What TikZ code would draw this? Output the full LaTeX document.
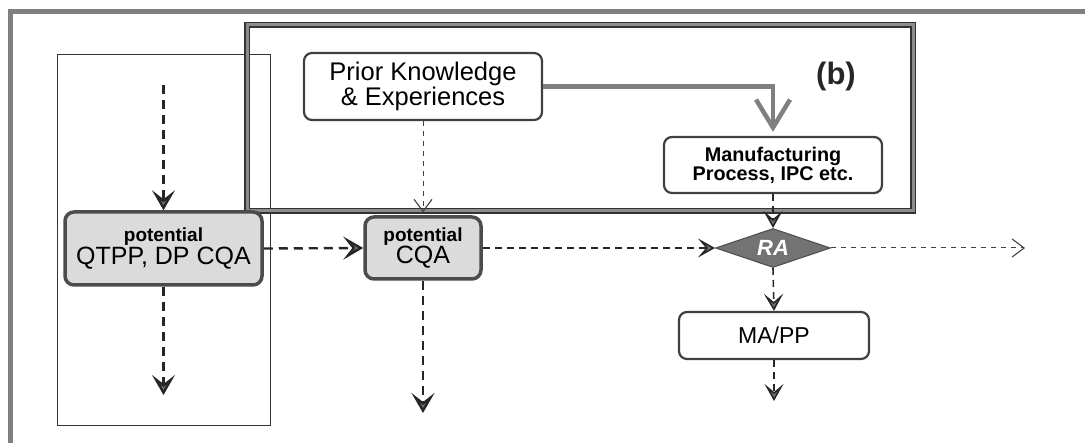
\documentclass[tikz,border=0pt]{standalone}
\usepackage{fontspec}
\setmainfont{Liberation Sans}
\usetikzlibrary{arrows.meta,shapes.geometric}
\begin{document}
\begin{tikzpicture}[x=1pt,y=-1pt,
  box/.style={draw=black!75, line width=2.2pt, rounded corners=8pt, fill=white, inner sep=0pt, align=center},
  potbox/.style={draw=black!70, line width=3.5pt, rounded corners=9pt, fill=black!14, inner sep=0pt, align=center},
  thickdash/.style={draw=black!85, line width=2.4pt, dash pattern=on 9pt off 6pt, -{Stealth[length=20pt,width=23pt,inset=9pt,fill=black!55]}},
  middash/.style={draw=black!85, line width=1.6pt, dash pattern=on 7pt off 5pt, -{Stealth[length=17pt,width=19pt,inset=8pt,fill=black!55]}},
  thindash/.style={draw=black!75, line width=1pt, dash pattern=on 5pt off 5pt, -{Straight Barb[length=12pt,width=18pt,line width=1.1pt]}},
  bigarrow/.style={draw=black!50, line width=4.5pt, -{Straight Barb[length=28pt,width=34pt]}},
  frame/.style={draw=black!50, line width=5pt},
  bframe/.style={draw=black!80, double=black!45, double distance=3pt, line width=1.3pt}
]
\useasboundingbox (0,0) rectangle (1085,443);

% outer frame (top and left visible)
\draw[frame] (10,460) -- (10,12) -- (1095,12);

% thin left rectangle
\draw[black!80, line width=0.8pt] (57,54) rectangle (270,425);

% (b) box
\draw[bframe] (247,25) rectangle (913,211);

% nodes
\node[box, minimum width=238pt, minimum height=67pt] (pk) at (423,86.5)
  {\fontsize{25.5}{23}\selectfont Prior Knowledge\\ \fontsize{25.5}{23}\selectfont \& Experiences};
\node[box, minimum width=218pt, minimum height=56pt] (mfg) at (773,165)
  {\fontsize{19.8}{18}\selectfont\bfseries Manufacturing\\ \fontsize{19.8}{18}\selectfont\bfseries Process, IPC etc.};
\node[potbox, minimum width=197pt, minimum height=73pt] (qtpp) at (163.5,248.5)
  {\fontsize{19}{24}\selectfont\bfseries potential\\ \fontsize{25}{24}\selectfont QTPP, DP CQA};
\node[potbox, minimum width=116pt, minimum height=62pt] (cqa) at (423,248)
  {\fontsize{19}{24}\selectfont\bfseries potential\\ \fontsize{25}{24}\selectfont CQA};
\node[diamond, aspect=2.95, draw=black!70, fill=black!55, line width=1pt, minimum width=115pt, minimum height=39pt, inner sep=0pt,
  font=\fontsize{22}{22}\selectfont\bfseries\itshape, text=white] (ra) at (773,248) {RA};
\node[box, minimum width=190pt, minimum height=47pt] (mapp) at (774,335.5)
  {\fontsize{23}{23}\selectfont MA/PP};
\node[font=\fontsize{31}{31}\selectfont\bfseries, text=black!85] (blabel) at (836,76) {(b)};

% free ends
\coordinate (qin) at (163.5,85);
\coordinate (qout) at (163.5,395);
\coordinate (cout) at (423,413);
\coordinate (raout) at (1025,248);
\coordinate (mout) at (774,401);

% connectors
\draw[thickdash] (qin) -- (qtpp.north);
\draw[thickdash] (qtpp.south) -- (qout);
\draw[thickdash] (qtpp.east) -- (cqa.west);
\draw[thickdash] (cqa.south) -- (cout);
\draw[middash] (cqa.east) -- (ra.west);
\draw[thindash] (ra.east) -- (raout);
\draw[thindash, shorten >=3pt] (pk.south) -- (cqa.north);
\draw[middash] (mfg.south) -- (ra.north);
\draw[middash] (ra.south) -- (mapp.north);
\draw[middash] (mapp.south) -- (mout);
\draw[bigarrow, shorten >=4pt] (pk.east) -| (mfg.north);
\end{tikzpicture}
\end{document}
